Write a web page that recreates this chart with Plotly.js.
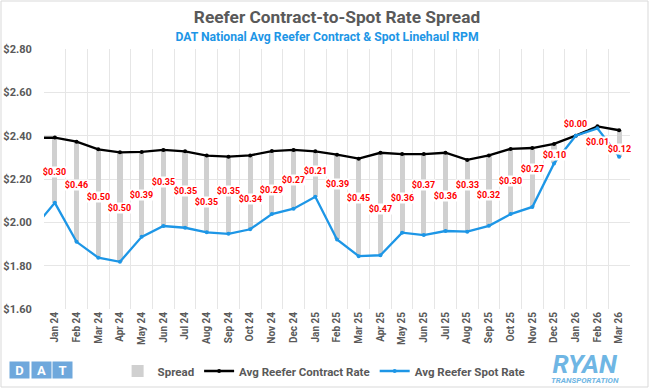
<!DOCTYPE html>
<html>
<head>
<meta charset="utf-8">
<script src="https://cdn.plot.ly/plotly-3.0.1.min.js"></script>
<style>html,body{margin:0;padding:0;background:#fff;}#chart{width:650px;height:389px;}</style>
</head>
<body>
<div id="chart"></div>
<script>
// Line series include the prior month (Dec 23), which lies just outside the visible range
const lineMonths = ["Dec 23","Jan 24","Feb 24","Mar 24","Apr 24","May 24","Jun 24","Jul 24","Aug 24","Sep 24","Oct 24","Nov 24","Dec 24",
  "Jan 25","Feb 25","Mar 25","Apr 25","May 25","Jun 25","Jul 25","Aug 25","Sep 25","Oct 25","Nov 25","Dec 25",
  "Jan 26","Feb 26","Mar 26"];
const contractRate = [2.39,2.391,2.372,2.337,2.323,2.325,2.334,2.328,2.308,2.303,2.309,2.329,2.334,
  2.328,2.312,2.294,2.321,2.315,2.315,2.321,2.288,2.309,2.339,2.343,2.362,
  2.400,2.443,2.425];
const spotRate = [1.97,2.090,1.910,1.837,1.818,1.933,1.983,1.975,1.954,1.947,1.968,2.038,2.063,
  2.118,1.921,1.844,1.848,1.952,1.941,1.960,1.957,1.984,2.038,2.071,2.272,
  2.400,2.434,2.303];
const spreadLabels = ["$0.30","$0.46","$0.50","$0.50","$0.39","$0.35","$0.35","$0.35","$0.35","$0.34","$0.29","$0.27",
  "$0.21","$0.39","$0.45","$0.47","$0.36","$0.37","$0.36","$0.33","$0.32","$0.30","$0.27","$0.10",
  "$0.00","$0.01","$0.12"];
const yTickVals = [1.6,1.8,2.0,2.2,2.4,2.6,2.8];

// visible months (Jan 24 onward)
const months = lineMonths.slice(1);
const visContract = contractRate.slice(1);
const visSpot = spotRate.slice(1);
const spreadBase = visSpot;
const spreadHeight = visContract.map((c,i)=>c - visSpot[i]);
// label vertical offsets (px) from the bar centre, as staggered in the reference
const labelShift = [-2,7,6,-1,-1,6,-1,-8,4,-7,-7,-1,3,13,9,-5,-5,10,-4,11,-4,0,8,-1,12,-15,-6];

const FONT = "Roboto, 'Noto Sans', sans-serif";
const GRAY = "#595959";
const BLUE = "#1d96e6";
const LOGO = "#6fb6e4";
const px = v => (v-44)/586;       // figure px -> paper x
const py = v => (309-v)/260;      // figure px -> paper y

const traces = [
  {type:"bar", name:"Spread", x:months, y:spreadHeight, base:spreadBase,
   marker:{color:"#d0d0d0"}, width:0.24, hoverinfo:"skip"},
  {type:"scatter", mode:"lines+markers", name:"Avg Reefer Contract Rate", x:lineMonths, y:contractRate,
   line:{color:"#000000", width:2.3}, marker:{color:"#000000", size:4}},
  {type:"scatter", mode:"lines+markers", name:"Avg Reefer Spot Rate", x:lineMonths, y:spotRate,
   line:{color:BLUE, width:2.3}, marker:{color:BLUE, size:4}}
];

const annotations = months.map((m,i)=>({
  x:m, y:(visContract[i]+visSpot[i])/2, xref:"x", yref:"y", text:"<b>"+spreadLabels[i]+"</b>",
  showarrow:false, yshift:labelShift[i], width:23, height:10, xanchor:"center", yanchor:"middle",
  font:{family:FONT, size:9, color:"#ff0000"},
  bgcolor:"#ffffff", borderpad:0
}));
// subtitle
annotations.push({xref:"paper", yref:"paper", x:px(326.5), y:py(37.5), xanchor:"center", yanchor:"middle",
  text:"<b>DAT National Avg Reefer Contract & Spot Linehaul RPM</b>", showarrow:false, width:400,
  font:{family:FONT, size:12.2, color:BLUE}});
// DAT logo
const dat = ["D","A","T"];
const datX0 = [10,32,53];
dat.forEach((l,i)=>{
  annotations.push({xref:"paper", yref:"paper", x:px(datX0[i]+9.5), y:py(370), xanchor:"center", yanchor:"middle",
    text:"<b>"+l+"</b>", showarrow:false,
    width:19, height:16, borderpad:0, bgcolor:"#6fa8dc", font:{family:FONT, size:13, color:"#ffffff"}});
});
// RYAN Transportation logo (one two-line text)
annotations.push({xref:"paper", yref:"paper", x:px(584.5), y:py(367), xanchor:"center", yanchor:"middle",
  text:"<b><i><span style='font-size:26px'>RYAN</span><br>TRANSPORTATION</i></b>", showarrow:false, borderpad:0,
  font:{family:FONT, size:8, color:LOGO}});
// outer border
const shapes = [{type:"rect", xref:"paper", yref:"paper", x0:px(1), x1:px(648), y0:py(387), y1:py(1),
  line:{color:"#d9d9d9", width:1}, fillcolor:"rgba(0,0,0,0)", layer:"below"}];

const layout = {
  width:650, height:389,
  margin:{l:44, r:20, t:49, b:80, autoexpand:false},
  paper_bgcolor:"#ffffff", plot_bgcolor:"#ffffff",
  title:{text:"<b>Reefer Contract-to-Spot Rate Spread</b>", x:0.5, xref:"paper", y:1, yref:"container", yanchor:"top", pad:{t:11},
    font:{family:FONT, size:17.3, color:GRAY}},
  showlegend:true,
  legend:{orientation:"h", x:0.478, xanchor:"center", yref:"container", y:(389-371)/389, yanchor:"middle",
    bgcolor:"rgba(0,0,0,0)", font:{family:FONT, size:11.5, color:GRAY, weight:700}, itemwidth:30, traceorder:"normal"},
  xaxis:{type:"category", categoryorder:"array", categoryarray:lineMonths, range:[0.5, 27.5],
    tickson:"boundaries", showgrid:true, gridcolor:"#e6e6e6", gridwidth:1, ticks:"", tickangle:-90,
    tickfont:{family:FONT, size:10, color:GRAY, weight:700}, showline:false, zeroline:false, fixedrange:true},
  yaxis:{range:[1.6, 2.8], tickvals:yTickVals, tickformat:"$.2f", showgrid:true, gridcolor:"#e6e6e6",
    ticks:"outside", ticklen:9, tickcolor:"rgba(0,0,0,0)", zeroline:false, showline:false,
    tickfont:{family:FONT, size:11, color:GRAY, weight:700}, fixedrange:true},
  bargap:0, annotations:annotations, shapes:shapes
};
Plotly.newPlot("chart", traces, layout, {displayModeBar:false, staticPlot:true});
</script>
</body>
</html>
